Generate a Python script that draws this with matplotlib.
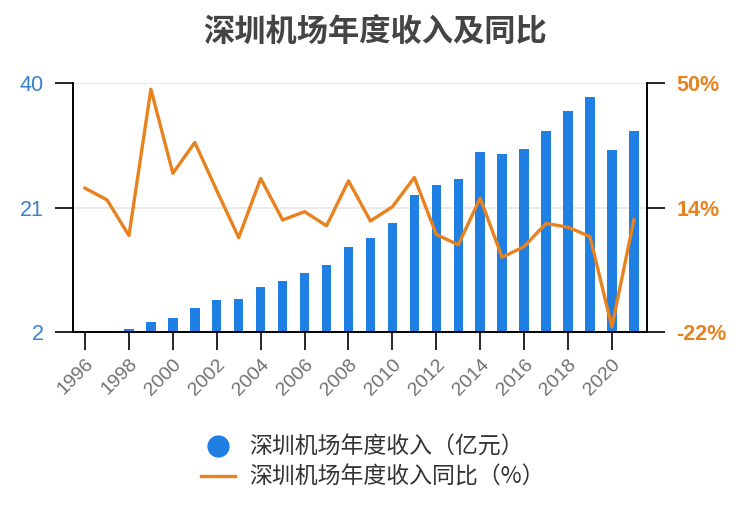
import numpy as np
import matplotlib
matplotlib.use("agg")
import matplotlib.pyplot as plt
from matplotlib.lines import Line2D

plt.rcParams['font.family'] = ['Noto Sans CJK SC', 'DejaVu Sans']

# data
years = list(range(1996, 2022))
revenue = [1.9, 1.95, 2.4, 3.6, 4.1, 5.7, 6.9, 7.1, 8.9, 9.8, 11.0, 12.2,
           14.9, 16.4, 18.7, 22.9, 24.4, 25.3, 29.5, 29.2, 30.0, 32.7,
           35.7, 37.8, 29.8, 32.7]
growth = [19.6, 16.2, 5.9, 48.2, 23.9, 32.8, 18.9, 5.3, 22.4, 10.4, 12.8, 8.7,
          21.7, 10.1, 14.2, 22.7, 6.2, 3.2, 16.7, -0.4, 2.7, 9.4, 8.3, 5.6,
          -20.5, 10.4]
xticks = list(range(1996, 2021, 2))
left_ticks = [2, 21, 40]
right_ticks = [-22, 14, 50]

title = '深圳机场年度收入及同比'
bar_label = '深圳机场年度收入（亿元）'
line_label = '深圳机场年度收入同比（%）'

blue = '#1f7fe3'
orange = '#e8821e'
num_font = 'Liberation Sans'

fig = plt.figure(figsize=(7.5, 5.27), dpi=100)
ax1 = fig.add_axes([0.0973, 0.370, 0.7654, 0.4725])
ax2 = ax1.twinx()

# bars on the left axis
ax1.bar(years, revenue, width=0.43, color=blue, zorder=2)
ax1.set_ylim(2, 40)
ax1.set_xlim(1995.45, 2021.6)
ax1.set_yticks(left_ticks)
ax1.set_yticklabels([str(t) for t in left_ticks])
ax1.yaxis.grid(True, color='#e6e6e6', linewidth=1.2, zorder=0)
ax1.set_axisbelow(True)
ax1.set_xticks(xticks)
ax1.set_xticklabels([str(t) for t in xticks], rotation=45, ha='right',
                    rotation_mode='anchor', color='#707070', fontsize=14,
                    family=num_font)
ax1.tick_params(axis='x', length=13, width=1.2, pad=4)
ax1.tick_params(axis='y', length=13, width=1.2, pad=8, labelcolor='#3a80d2',
                labelsize=15.5)
for lab in ax1.get_yticklabels():
    lab.set_family(num_font)

# growth line on the right axis
ax2.plot(years, growth, color=orange, linewidth=2.4, zorder=3)
ax2.set_ylim(-22, 50)
ax2.set_yticks(right_ticks)
ax2.set_yticklabels([f'{t}%' for t in right_ticks], fontweight='bold',
                    family=num_font)
ax2.tick_params(axis='y', length=13, width=1.2, pad=8, labelcolor='#e8821e',
                labelsize=15.5)

for ax in (ax1, ax2):
    ax.spines['top'].set_visible(False)
    for side in ('left', 'right', 'bottom'):
        ax.spines[side].set_linewidth(1.2)

fig.text(0.5, 0.937, title, ha='center', va='center', fontsize=22.5,
         fontweight='bold', color='#444444')

handles = [Line2D([], [], marker='o', linestyle='none', markersize=15,
                  color=blue),
           Line2D([], [], color=orange, linewidth=2.4)]
fig.legend(handles, [bar_label, line_label], loc='center',
           bbox_to_anchor=(0.497, 0.123), frameon=False, fontsize=16.5,
           labelcolor='#333333', handlelength=1.5, handletextpad=0.6,
           labelspacing=0.3)

fig.savefig('out.png', dpi=100)
